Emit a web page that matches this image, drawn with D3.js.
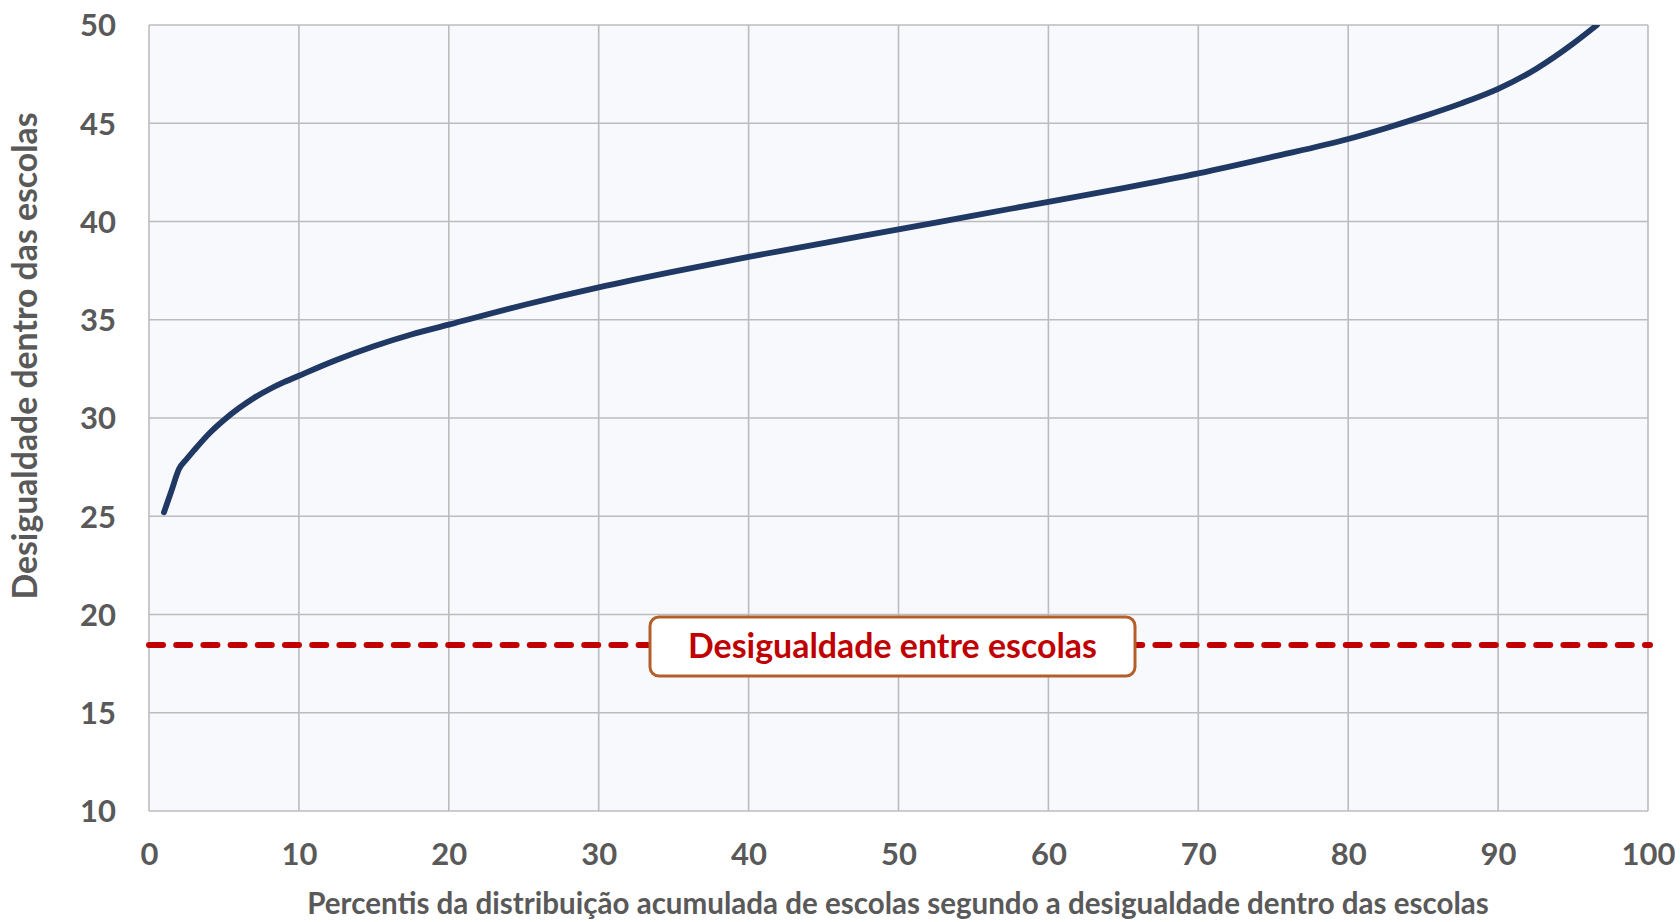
<!DOCTYPE html>
<html>
<head>
<meta charset="utf-8">
<script src="https://cdn.jsdelivr.net/npm/d3@7"></script>
<style>
  html, body { margin: 0; padding: 0; background: #ffffff; }
  svg { display: block; }
  text { font-family: Lato, "Open Sans", sans-serif; font-weight: 700; }
</style>
</head>
<body>
<svg id="chart" width="1680" height="922"></svg>
<script>
// ---- data ----
const percentis = [1, 1.5, 2, 2.5, 3, 4, 5, 6, 7, 8, 9, 10, 12.5, 15, 17.5, 20, 25, 30, 35, 40, 45, 50, 55, 60, 65, 70, 75, 80, 82.5, 85, 87.5, 90, 92.5, 95, 96.6];
const desigualdadeDentro = [25.2, 26.3, 27.4, 27.9, 28.35, 29.2, 29.9, 30.5, 31.02, 31.45, 31.82, 32.15, 32.95, 33.65, 34.25, 34.75, 35.75, 36.65, 37.45, 38.2, 38.9, 39.6, 40.3, 41.0, 41.7, 42.45, 43.3, 44.2, 44.75, 45.35, 46.0, 46.75, 47.75, 49.05, 50.0];
const desigualdadeEntre = 18.45;
const xTicks = [0, 10, 20, 30, 40, 50, 60, 70, 80, 90, 100];
const yTicks = [10, 15, 20, 25, 30, 35, 40, 45, 50];
const labelEntre = "Desigualdade entre escolas";
const xTitle = "Percentis da distribuição acumulada de escolas segundo a desigualdade dentro das escolas";
const yTitle = "Desigualdade dentro das escolas";

// ---- layout ----
const W = 1680, H = 922;
const m = { left: 149, top: 25, right: 32, bottom: 111 };
const iw = W - m.left - m.right, ih = H - m.top - m.bottom;

const svg = d3.select("#chart");
const g = svg.append("g").attr("transform", `translate(${m.left},${m.top})`);

const x = d3.scaleLinear().domain([0, 100]).range([0, iw]);
const y = d3.scaleLinear().domain([10, 50]).range([ih, 0]);

// plot background
g.append("rect").attr("x", 0).attr("y", 0).attr("width", iw).attr("height", ih)
  .attr("fill", "#f8f9fd");

// gridlines
g.append("g").selectAll("line").data(xTicks).join("line")
  .attr("x1", d => x(d)).attr("x2", d => x(d)).attr("y1", 0).attr("y2", ih)
  .attr("stroke", "#bcbcbc").attr("stroke-width", 1.6);
g.append("g").selectAll("line").data(yTicks).join("line")
  .attr("y1", d => y(d)).attr("y2", d => y(d)).attr("x1", 0).attr("x2", iw)
  .attr("stroke", "#bcbcbc").attr("stroke-width", 1.6);

// axes (labels only)
const xAxis = g.append("g").attr("transform", `translate(0,${ih})`)
  .call(d3.axisBottom(x).tickValues(xTicks).tickSize(0).tickPadding(32).tickFormat(d3.format("d")));
const yAxis = g.append("g")
  .call(d3.axisLeft(y).tickValues(yTicks).tickSize(0).tickPadding(33).tickFormat(d3.format("d")));
[xAxis, yAxis].forEach(a => {
  a.select(".domain").remove();
  a.selectAll("text").attr("fill", "#595959").style("font-size", "31px")
    .style("font-family", "Lato, 'Open Sans', sans-serif").style("font-weight", 700);
});
yAxis.selectAll("text").attr("dy", "0.35em");

// clip
svg.append("defs").append("clipPath").attr("id", "clip")
  .append("rect").attr("x", -3).attr("y", 0).attr("width", iw + 6).attr("height", ih);

// dashed reference line
g.append("line")
  .attr("x1", x(0)).attr("x2", x(100) + 2)
  .attr("y1", y(desigualdadeEntre)).attr("y2", y(desigualdadeEntre))
  .attr("stroke", "#c00000").attr("stroke-width", 6)
  .attr("stroke-dasharray", "14 13.2").attr("stroke-linecap", "round");

// curve
const pts = percentis.map((p, i) => [p, desigualdadeDentro[i]]);
g.append("path").datum(pts)
  .attr("clip-path", "url(#clip)")
  .attr("fill", "none").attr("stroke", "#1f3864").attr("stroke-width", 5.8)
  .attr("stroke-linecap", "round").attr("stroke-linejoin", "round")
  .attr("d", d3.line().x(d => x(d[0])).y(d => y(d[1])).curve(d3.curveMonotoneX));

// annotation box
const boxW = 485, boxH = 59;
const bcx = x(49.6), bcy = y(desigualdadeEntre) + 1.5;
g.append("rect")
  .attr("x", bcx - boxW / 2).attr("y", bcy - boxH / 2)
  .attr("width", boxW).attr("height", boxH).attr("rx", 9).attr("ry", 9)
  .attr("fill", "#ffffff").attr("stroke", "#b45f2a").attr("stroke-width", 3);
const lbl = g.append("text")
  .attr("x", bcx).attr("y", bcy).attr("dy", "0.35em")
  .attr("text-anchor", "middle").attr("fill", "#c00000")
  .style("font-size", "29px").text(labelEntre);

function fit(t, target) {
  const w = t.node().getComputedTextLength();
  const fs = parseFloat(t.style("font-size"));
  t.style("font-size", (fs * target / w).toFixed(2) + "px");
}
fit(lbl, 409);

// axis titles
const xt = svg.append("text")
  .attr("x", 898).attr("y", 914)
  .attr("text-anchor", "middle").attr("fill", "#595959")
  .style("font-size", "25px").text(xTitle);
fit(xt, 1182);

const yt = svg.append("text")
  .attr("transform", "translate(37,356) rotate(-90)")
  .attr("text-anchor", "middle").attr("fill", "#595959")
  .style("font-size", "26px").text(yTitle);
fit(yt, 487);
</script>
</body>
</html>
